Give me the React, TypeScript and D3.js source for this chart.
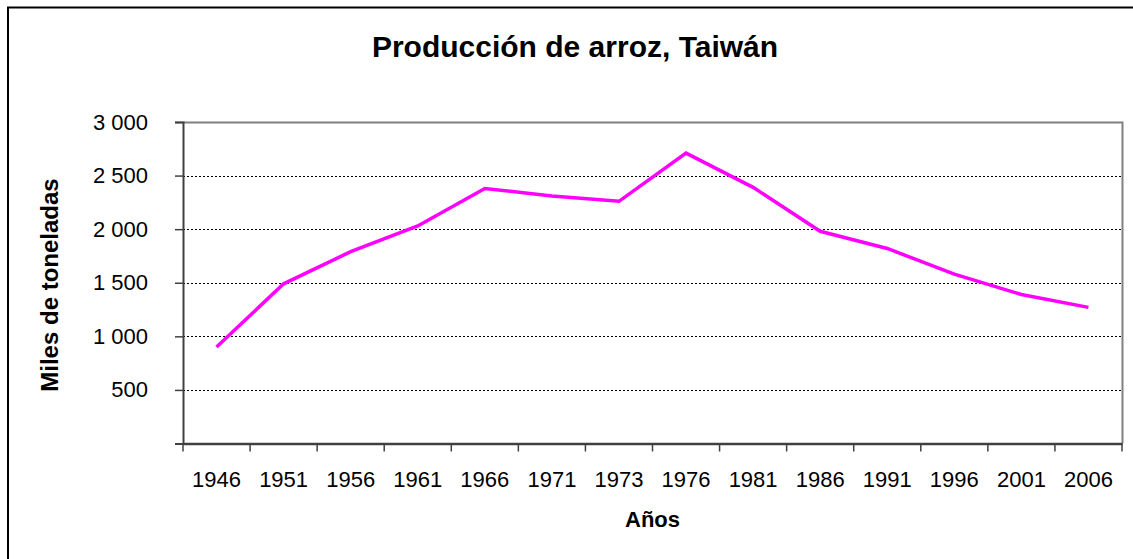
import React, { useRef, useEffect } from "react";
import * as d3 from "d3";

const years = ["1946", "1951", "1956", "1961", "1966", "1971", "1973", "1976", "1981", "1986", "1991", "1996", "2001", "2006"];
const production = [900, 1490, 1790, 2030, 2380, 2310, 2260, 2710, 2390, 1980, 1820, 1580, 1390, 1270];
const yTicks = [500, 1000, 1500, 2000, 2500, 3000];

function App() {
  const svgRef = useRef<SVGSVGElement>(null);

  useEffect(() => {
    const W = 1133;
    const H = 559;
    const left = 183;
    const right = 1122;
    const top = 122;
    const bottom = 443.5;
    const font = "'Liberation Sans', Arial, sans-serif";

    const svg = d3.select(svgRef.current).attr("width", W).attr("height", H);
    svg.selectAll("*").remove();

    svg.append("rect").attr("width", W).attr("height", H).attr("fill", "#fff");
    // outer chart border (runs off the picture on right/bottom)
    svg
      .append("rect")
      .attr("x", 8)
      .attr("y", 7.5)
      .attr("width", W + 20)
      .attr("height", H + 20)
      .attr("fill", "none")
      .attr("stroke", "#000")
      .attr("stroke-width", 2);

    const x = d3.scaleBand().domain(years).range([left, right]);
    const y = d3.scaleLinear().domain([0, 3000]).range([bottom, top]);

    // gridlines
    svg
      .append("g")
      .selectAll("line")
      .data(yTicks.filter((t) => t < 3000))
      .join("line")
      .attr("x1", left)
      .attr("x2", right)
      .attr("y1", (d) => Math.round(y(d)) + 0.5)
      .attr("y2", (d) => Math.round(y(d)) + 0.5)
      .attr("stroke", "#000")
      .attr("stroke-dasharray", "2,2");

    // plot frame top / right
    svg
      .append("path")
      .attr("d", `M${left},${top + 0.5}H${right + 0.5}V${bottom}`)
      .attr("fill", "none")
      .attr("stroke", "#808080")
      .attr("stroke-width", 2);

    // y axis
    const yAxis = d3
      .axisLeft(y)
      .tickValues([0, ...yTicks])
      .tickSize(8)
      .tickPadding(27)
      .tickFormat((d) => (d === 0 ? "" : d3.format(",")(d as number).replace(",", " ")));
    const gy = svg.append("g").attr("transform", `translate(${left},0)`).call(yAxis);
    gy.select(".domain").attr("stroke", "#404040").attr("stroke-width", 2);
    gy.selectAll(".tick line").attr("stroke", "#404040").attr("stroke-width", 1.5);
    gy.selectAll(".tick text")
      .attr("font-family", font)
      .attr("font-size", 22)
      .attr("fill", "#000");

    // x axis
    const xAxis = d3.axisBottom(x).tickSize(0);
    const gx = svg.append("g").attr("transform", `translate(0,${bottom})`).call(xAxis);
    gx.select(".domain").attr("stroke", "#404040").attr("stroke-width", 2.5);
    gx.selectAll(".tick text")
      .attr("y", 43.5)
      .attr("dy", 0)
      .attr("font-family", font)
      .attr("font-size", 22)
      .attr("fill", "#000");
    svg
      .append("g")
      .selectAll("line")
      .data(years.map((_, i) => left + i * x.step()).concat([right]))
      .join("line")
      .attr("x1", (d) => d)
      .attr("x2", (d) => d)
      .attr("y1", bottom)
      .attr("y2", bottom + 8)
      .attr("stroke", "#404040")
      .attr("stroke-width", 1.5);

    // line
    const line = d3
      .line<number>()
      .x((_, i) => (x(years[i]) as number) + x.bandwidth() / 2)
      .y((d) => y(d));
    svg
      .append("path")
      .datum(production)
      .attr("d", line)
      .attr("fill", "none")
      .attr("stroke", "#ff00ff")
      .attr("stroke-width", 3.5);

    // titles
    svg
      .append("text")
      .attr("x", 575)
      .attr("y", 57)
      .attr("text-anchor", "middle")
      .attr("font-family", font)
      .attr("font-weight", "bold")
      .attr("font-size", 30)
      .text("Producción de arroz, Taiwán");
    svg
      .append("text")
      .attr("x", (left + right) / 2)
      .attr("y", 527)
      .attr("text-anchor", "middle")
      .attr("font-family", font)
      .attr("font-weight", "bold")
      .attr("font-size", 22)
      .text("Años");
    svg
      .append("text")
      .attr("transform", `translate(58,285) rotate(-90)`)
      .attr("text-anchor", "middle")
      .attr("font-family", font)
      .attr("font-weight", "bold")
      .attr("font-size", 24)
      .text("Miles de toneladas");
  }, []);

  return <svg ref={svgRef} style={{ position: "absolute", left: 0, top: 0 }}></svg>;
}

export default App;
